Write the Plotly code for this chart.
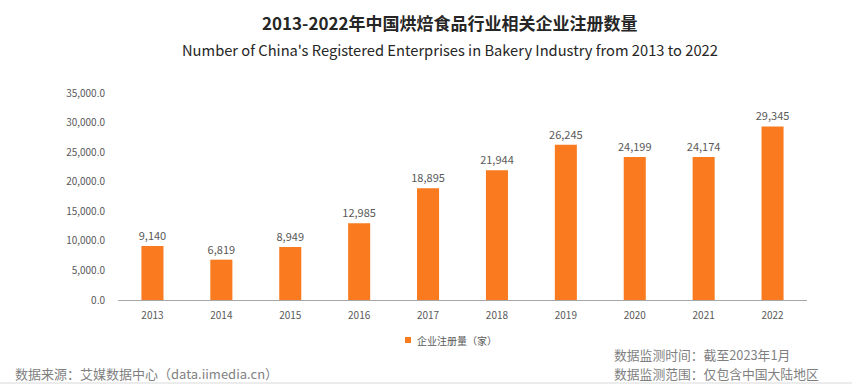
import plotly.graph_objects as go

years = ["2013", "2014", "2015", "2016", "2017", "2018", "2019", "2020", "2021", "2022"]
counts = [9140, 6819, 8949, 12985, 18895, 21944, 26245, 24199, 24174, 29345]
y_ticks = [0, 5000, 10000, 15000, 20000, 25000, 30000, 35000]
y_tick_text = ["0.0", "5,000.0", "10,000.0", "15,000.0", "20,000.0", "25,000.0", "30,000.0", "35,000.0"]
series_name = "企业注册量（家）"

FONT = "Noto Sans CJK SC"
LBL = "#595959"
ORANGE = "#F97A1F"

L, R, T, B = 118, 45, 93, 90
PW, PH = 852 - L - R, 390 - T - B


def px(x):
    return (x - L) / PW


def py(y):
    return (390 - B - y) / PH


fig = go.Figure()
fig.add_trace(go.Bar(
    x=years, y=counts, name=series_name,
    marker=dict(color=ORANGE, line=dict(width=0)),
    text=[f"{v:,}" for v in counts], textposition="outside",
    constraintext="none",
    textfont=dict(family=FONT, size=11, color=LBL),
    cliponaxis=False, showlegend=False,
))

fig.update_layout(
    width=852, height=390,
    margin=dict(l=L, r=R, t=T, b=B),
    paper_bgcolor="white", plot_bgcolor="white",
    bargap=0.68,
    font=dict(family=FONT, color=LBL),
    showlegend=False,
    xaxis=dict(type="category", showline=True, linecolor="#A6A6A6", linewidth=1,
               ticks="", showgrid=False, ticklabelstandoff=6,
               tickfont=dict(family=FONT, size=10, color=LBL)),
    yaxis=dict(range=[0, 35000], tickvals=y_ticks, ticktext=y_tick_text,
               showgrid=False, zeroline=False, showline=False, ticks="",
               ticklabelstandoff=12,
               tickfont=dict(family=FONT, size=10, color=LBL)),
)

annotations = [
    dict(text="<b>2013-2022年中国烘焙食品行业相关企业注册数量</b>", x=450, y=22,
         font=dict(family=FONT, size=17, color="#262626")),
    dict(text="Number of China's Registered Enterprises in Bakery Industry from 2013 to 2022",
         x=450, y=50, font=dict(family=FONT, size=14.7, color="#262626")),
    dict(text=series_name, x=416, y=340, xanchor="left",
         font=dict(family=FONT, size=10, color=LBL)),
    dict(text="数据来源：艾媒数据中心（data.iimedia.cn）", x=14, y=373, xanchor="left",
         font=dict(family=FONT, size=13, color="#7F7F7F")),
    dict(text="数据监测时间：截至2023年1月", x=613, y=354, xanchor="left",
         font=dict(family=FONT, size=12.8, color="#7F7F7F")),
    dict(text="数据监测范围：仅包含中国大陆地区", x=613, y=373, xanchor="left",
         font=dict(family=FONT, size=12.8, color="#7F7F7F")),
]
for a in annotations:
    a.setdefault("xanchor", "center")
    fig.add_annotation(xref="paper", yref="paper", showarrow=False, yanchor="middle",
                       borderpad=0,
                       x=px(a.pop("x")), y=py(a.pop("y")), **a)

# legend marker
fig.add_shape(type="rect", xref="paper", yref="paper",
              x0=px(405), x1=px(411), y0=py(343), y1=py(337),
              fillcolor=ORANGE, line=dict(width=0))

# bottom separator line
fig.add_shape(type="line", xref="paper", yref="paper",
              x0=px(0), x1=px(852), y0=py(383), y1=py(383),
              line=dict(color="#D9D9D9", width=1))

fig.write_html("out.html", config={"displayModeBar": False},
               post_script="document.body.style.margin='0';")
